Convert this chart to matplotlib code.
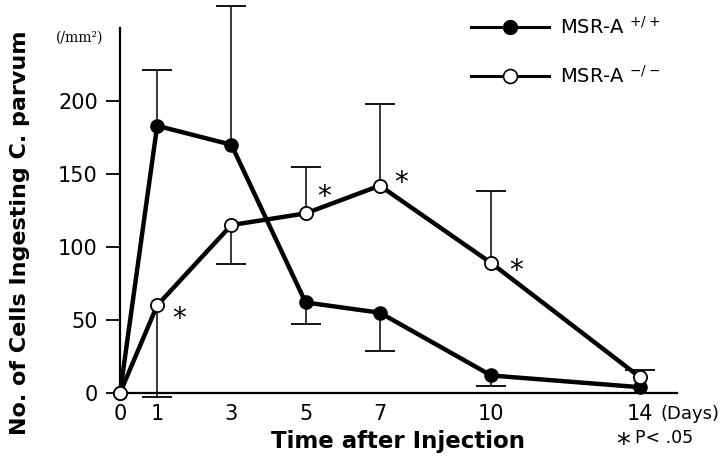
import numpy as np
import matplotlib
matplotlib.use("Agg")
import matplotlib.pyplot as plt
from matplotlib.lines import Line2D

plt.rcParams['font.family'] = ['DejaVu Sans']
plt.rcParams['mathtext.default'] = 'regular'

# data
days = [0, 1, 3, 5, 7, 10, 14]
day_labels = ['0', '1', '3', '5', '7', '10', '14']

wt_mean = [0, 183, 170, 62, 55, 12, 4]
wt_err_up = [0, 38, 95, 0, 0, 0, 0]
wt_err_down = [0, 0, 0, 15, 26, 7.5, 0]

ko_mean = [0, 60, 115, 123, 142, 89, 11]
ko_err_up = [0, 0, 0, 32, 56, 49, 5]
ko_err_down = [0, 63, 27, 0, 0, 0, 0]

# points of the knockout curve that carry a star (P < .05)
star_days = [1, 5, 7, 10]
star_offsets = [(16, -10), (13, 12), (15, 2), (18, -6)]

fig = plt.figure(figsize=(7.2, 4.65), dpi=100)
ax = fig.add_axes([0.1667, 0.1548, 0.7733, 0.7852])


def draw_err(x, y, up, down):
	x = np.array(x, float)
	y = np.array(y, float)
	up = np.array(up, float)
	down = np.array(down, float)
	for sel, ends in [(up > 0, y + up), (down > 0, y - down)]:
		ax.vlines(x[sel], y[sel], ends[sel], color='black', lw=1.1, zorder=1, clip_on=False)
		ax.plot(x[sel], ends[sel], ls='none', marker='_', ms=21, mew=1.3,
			color='black', zorder=1, clip_on=False)


draw_err(days, wt_mean, wt_err_up, wt_err_down)
draw_err(days, ko_mean, ko_err_up, ko_err_down)

ax.plot(days, wt_mean, color='black', lw=3.2, marker='o', ms=9.5,
	mfc='black', mec='black', zorder=3, clip_on=False)
ax.plot(days, ko_mean, color='black', lw=3.2, marker='o', ms=9.5,
	mfc='white', mec='black', mew=1.3, zorder=4, clip_on=False)

# stars
for d, off in zip(star_days, star_offsets):
	i = days.index(d)
	ax.annotate('*', (d, ko_mean[i]), xytext=off, textcoords='offset points',
		ha='center', va='center', fontsize=20)

ax.set_xlim(0, 15)
ax.set_ylim(0, 250)
ax.set_yticks([0, 50, 100, 150, 200])
ax.set_xticks(days)
ax.set_xticklabels(day_labels)
ax.tick_params(axis='y', direction='out', length=10, width=1.3, labelsize=15, pad=6)
ax.tick_params(axis='x', length=0, labelsize=15, pad=8)
for s in ['top', 'right']:
	ax.spines[s].set_visible(False)
ax.spines['left'].set_linewidth(1.6)
ax.spines['bottom'].set_linewidth(1.6)

ax.text(14.55, -0.058, '(Days)', transform=ax.get_xaxis_transform(), fontsize=13,
	ha='left', va='center')

ax.set_xlabel('Time after Injection', fontsize=16.5, fontweight='bold', labelpad=4)
fig.text(0.028, 0.5, 'No. of Cells Ingesting C. parvum', rotation=90,
	fontsize=16, fontweight='bold', ha='center', va='center')
fig.text(0.111, 0.918, '(/mm²)', family='DejaVu Serif', fontsize=10,
	ha='center', va='center')

fig.text(0.866, 0.042, '*', fontsize=20, ha='center', va='center')
fig.text(0.882, 0.058, 'P< .05', fontsize=12.5, ha='left', va='center')

handles = [
	Line2D([], [], color='black', lw=2.2, marker='o', ms=10, mfc='black', mec='black'),
	Line2D([], [], color='black', lw=2.2, marker='o', ms=10, mfc='white', mec='black', mew=1.2),
]
fig.legend(handles, ['MSR-A $^{+/+}$', 'MSR-A $^{-/-}$'], loc='upper left',
	bbox_to_anchor=(0.643, 0.982), frameon=False, fontsize=14,
	handlelength=4.0, labelspacing=1.4, handletextpad=0.6, borderaxespad=0)

plt.savefig('out.png', dpi=100)
